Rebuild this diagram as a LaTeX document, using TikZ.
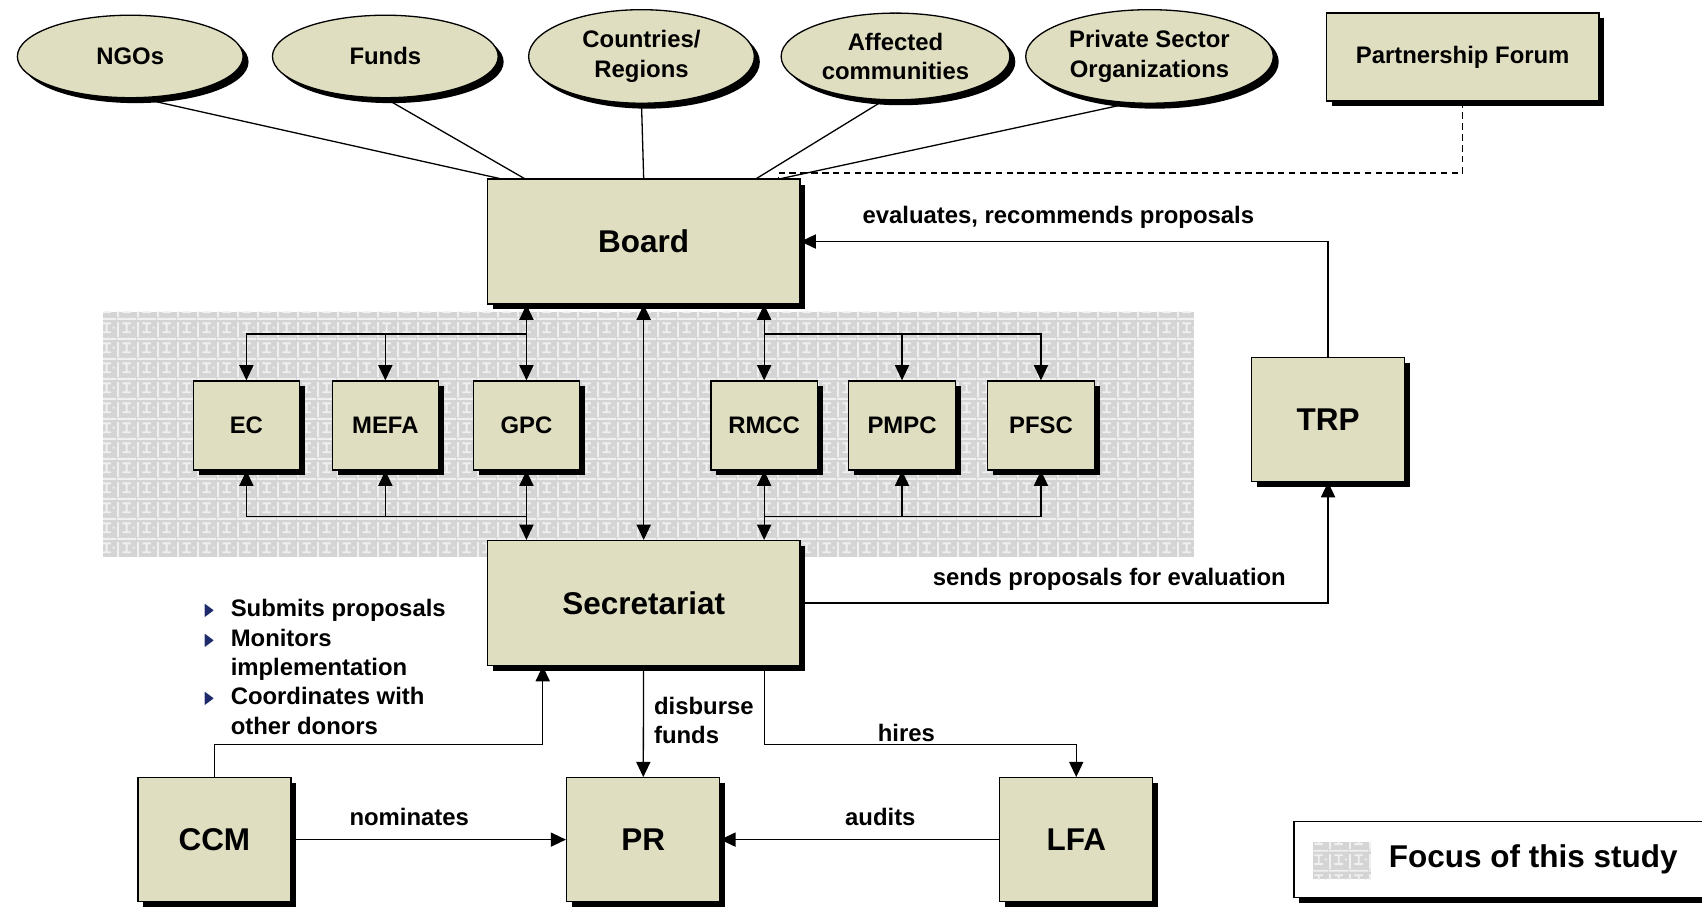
\documentclass[tikz,border=0pt]{standalone}
\usepackage{amssymb}
\usepackage{fontspec}
\setmainfont{Liberation Sans}
\usetikzlibrary{shapes.geometric,shadows,patterns,arrows.meta}

\definecolor{boxfill}{HTML}{E0DEC0}
\definecolor{bulletblue}{HTML}{1F2A6B}
\newcommand{\tri}{\makebox[12.5pt][l]{\textcolor{bulletblue}{\scalebox{0.6}[0.95]{$\blacktriangleright$}}}}

% texture of the focus area
\pgfdeclarepatternformonly{studytile}{\pgfqpoint{0pt}{0pt}}{\pgfqpoint{9pt}{9pt}}{\pgfqpoint{9pt}{9pt}}{
  \pgfpathrectangle{\pgfqpoint{0pt}{8.1pt}}{\pgfqpoint{9pt}{0.9pt}}
  \pgfpathrectangle{\pgfqpoint{0pt}{0pt}}{\pgfqpoint{0.9pt}{7pt}}
  \pgfpathrectangle{\pgfqpoint{2.5pt}{6pt}}{\pgfqpoint{4pt}{0.9pt}}
  \pgfpathrectangle{\pgfqpoint{4.1pt}{2.5pt}}{\pgfqpoint{0.9pt}{4pt}}
  \pgfpathrectangle{\pgfqpoint{2.5pt}{1.8pt}}{\pgfqpoint{4pt}{0.9pt}}
  \pgfpathrectangle{\pgfqpoint{7.4pt}{4pt}}{\pgfqpoint{0.9pt}{0.9pt}}
  \pgfusepath{fill}
}

\begin{document}
\begin{tikzpicture}
				[x=0.5pt, y=-0.5pt,
				>={Triangle[length=7pt,width=6.5pt]},
				line width=0.6pt,
				shadowed/.style = {drop shadow={shadow xshift=2.5pt,
				shadow yshift=-2.5pt, opacity=1, fill=black}},
				actor/.style = {draw, ellipse, fill=boxfill, shadowed,
				minimum width=104pt, minimum height=38pt, align=center,
				font=\bfseries\fontsize{11}{13.5}\selectfont},
				unit/.style = {draw, rectangle, fill=boxfill, shadowed, inner sep=0pt,
				font=\bfseries\fontsize{14.5}{17}\selectfont},
				bigbox/.style = {unit, minimum width=144pt, minimum height=57.5pt},
				smallbox/.style = {unit, minimum width=70.5pt, minimum height=57pt},
				committee/.style = {unit, minimum width=49pt, minimum height=41pt,
				font=\bfseries\fontsize{11}{13}\selectfont},
				note/.style = {inner sep=0pt, font=\bfseries\fontsize{11}{13.5}\selectfont},
				focusarea/.style = {fill=black!17,
				postaction={pattern=studytile, pattern color=black!6}}]
				\useasboundingbox (0,0) rectangle (1568,837);
				% focus of the study
				\path[focusarea] (95,287) rectangle (1100,513);
				% stakeholders
				\node[actor] (ngos) at (120,52) {NGOs};
				\node[actor] (funds) at (355,52) {Funds};
				\node[actor] (countries) at (591,52) {Countries/\\Regions};
				\node[actor] (affected) at (825,52) {Affected\\communities};
				\node[actor] (private) at (1059,52) {Private Sector\\Organizations};
				\node[unit, minimum width=125.5pt, minimum height=40.5pt,
				font=\bfseries\fontsize{11}{13}\selectfont] (forum) at (1347.5,52.5) {Partnership Forum};
				% main bodies
				\node[bigbox] (board) at (593,222.5) {Board};
				\node[bigbox] (secretariat) at (593,555.5) {Secretariat};
				\node[smallbox] (trp) at (1223.5,386.5) {TRP};
				\node[smallbox] (ccm) at (197.5,773.5) {CCM};
				\node[smallbox] (pr) at (592.5,773.5) {PR};
				\node[smallbox] (lfa) at (991.5,773.5) {LFA};
				% committees
				\node[committee] (ec) at (227,392) {EC};
				\node[committee] (mefa) at (355,392) {MEFA};
				\node[committee] (gpc) at (485,392) {GPC};
				\node[committee] (rmcc) at (704,392) {RMCC};
				\node[committee] (pmpc) at (831,392) {PMPC};
				\node[committee] (pfsc) at (959,392) {PFSC};
				% stakeholders to board
				\draw ([xshift=5pt]ngos.south) -- ([xshift=-66.5pt]board.north);
				\draw (funds.south) -- ([xshift=-55pt]board.north);
				\draw (countries.south) -- (board.north);
				\draw ([xshift=-5.5pt]affected.south) -- ([xshift=52pt]board.north);
				\draw ([xshift=-10.5pt]private.south) -- ([xshift=63.5pt]board.north);
				\draw[dash pattern=on 3pt off 2pt] (forum.south) |- ([xshift=62pt,yshift=2.5pt]board.north)
				-- ([xshift=62pt]board.north);
				% board, committees, secretariat
				\draw[<->] (board) -- (secretariat);
				\draw[<->] ([xshift=-54pt]board.south) -- (gpc.north);
				\draw[<->] (gpc.south) -- ([xshift=-54pt]secretariat.north);
				\draw[<->] ([xshift=55.5pt]board.south) -- (rmcc.north);
				\draw[<->] (rmcc.south) -- ([xshift=55.5pt]secretariat.north);
				\coordinate (lefttop) at ([xshift=-54pt,yshift=-13.5pt]board.south);
				\coordinate (leftbot) at ([xshift=-54pt,yshift=10.75pt]secretariat.north);
				\coordinate (righttop) at ([xshift=55.5pt,yshift=-13.5pt]board.south);
				\coordinate (rightbot) at ([xshift=55.5pt,yshift=10.75pt]secretariat.north);
				\draw[->] (lefttop) -| (ec.north);
				\draw[->] (lefttop -| mefa.north) -- (mefa.north);
				\draw[->] (leftbot) -| (ec.south);
				\draw[->] (leftbot -| mefa.south) -- (mefa.south);
				\draw[->] (righttop) -| (pfsc.north);
				\draw[->] (righttop -| pmpc.north) -- (pmpc.north);
				\draw[->] (rightbot) -| (pfsc.south);
				\draw[->] (rightbot -| pmpc.south) -- (pmpc.south);
				% review panel
				\draw[->] (trp) |- (board);
				\draw[->] (secretariat) -| (trp);
				\node[note] (evaluates) at (975,200) {evaluates, recommends proposals};
				\node[note] (sends) at (1022,534) {sends proposals for evaluation};
				% country level
				\draw[->] (ccm.north) |- ([xshift=-46.5pt,yshift=-36pt]secretariat.south)
				-- ([xshift=-46.5pt]secretariat.south);
				\draw[->] (secretariat) -- (pr);
				\draw[->] ([xshift=55.5pt]secretariat.south) -- ([xshift=55.5pt,yshift=-36pt]secretariat.south)
				-| (lfa.north);
				\draw[->] (ccm) -- (pr);
				\draw[->] (lfa) -- (pr);
				\node[note, anchor=west, align=left] (disburse) at (602,664) {disburse\\funds};
				\node[note] (hires) at (835,675) {hires};
				\node[note] (nominates) at (377,753) {nominates};
				\node[note] (audits) at (811,753) {audits};
				\node[note, anchor=west] (tasks) at (187,617) {\begin{tabular}{@{}l@{}l@{}}
				\tri & Submits proposals\\
				\tri & Monitors\\
				 & implementation\\
				\tri & Coordinates with\\
				 & other donors
				\end{tabular}};
				% legend
				\node[draw, fill=white, shadowed, minimum width=190pt, minimum height=35pt] (legend) at (1382,792) {};
				\node[focusarea, minimum width=26.5pt, minimum height=17pt, inner sep=0pt] (swatch) at (1236.5,793) {};
				\node[anchor=west, inner sep=0pt, font=\bfseries\fontsize{14.5}{17}\selectfont] (focus) at (1279,792) {Focus of this study};
			\end{tikzpicture}
\end{document}
